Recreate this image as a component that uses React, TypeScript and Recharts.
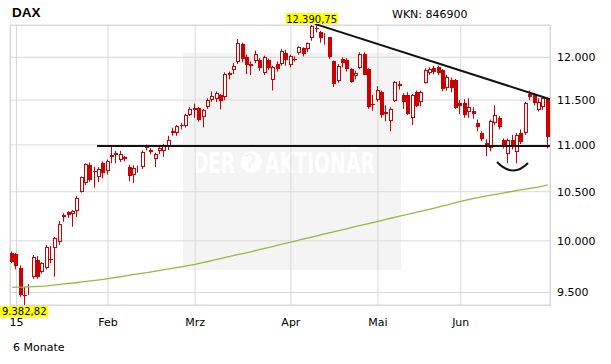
import { ComposedChart, Bar, Line, XAxis, YAxis, CartesianGrid, ReferenceLine, ReferenceDot } from "recharts"

// trading days per month (Xetra)
const dec14 = [30]
const jan15 = [2, 5, 6, 7, 8, 9, 12, 13, 14, 15, 16, 19, 20, 21, 22, 23, 26, 27, 28, 29, 30]
const feb15 = [2, 3, 4, 5, 6, 9, 10, 11, 12, 13, 16, 17, 18, 19, 20, 23, 24, 25, 26, 27]
const mar15 = [2, 3, 4, 5, 6, 9, 10, 11, 12, 13, 16, 17, 18, 19, 20, 23, 24, 25, 26, 27, 30, 31]
const apr15 = [1, 2, 7, 8, 9, 10, 13, 14, 15, 16, 17, 20, 21, 22, 23, 24, 27, 28, 29, 30]
const may15 = [4, 5, 6, 7, 8, 11, 12, 13, 14, 15, 18, 19, 20, 21, 22, 26, 27, 28, 29]
const jun15 = [1, 2, 3, 4, 5, 8, 9, 10, 11, 12, 15, 16, 17, 18, 19, 22, 23, 24, 25, 26, 29]

const opens = [
  9883, 9870, 9733, 9480, 9505, 9643, 9811, 9698, 9733, 9826,
  9930, 9990, 10255, 10290, 10270, 10300, 10500, 10590, 10782, 10720,
  10658, 10800, 10715, 10865, 10890, 10840, 10865, 10765, 10675, 10745,
  10760, 10980, 10945, 10845, 10935, 10935, 10980, 11152, 11130, 11218,
  11205, 11335, 11405, 11409, 11312, 11418, 11500, 11510, 11558, 11532,
  11810, 11845, 11940, 12158, 12005, 11915, 11950, 11965, 11812, 11965,
  11730, 11915, 11920, 12045, 11905, 11985, 12055, 12107, 12095, 12228,
  12360, 12308, 12220, 12240, 11950, 11724, 11978, 11965, 11858, 11774,
  11875, 12040, 11858, 11460, 11501, 11590, 11370, 11264, 11495, 11680,
  11558, 11558, 11294, 11597, 11480, 11700, 11810, 11870, 11880, 11850,
  11640, 11735, 11733, 11465, 11465, 11360, 11380, 11238, 11127, 11017,
  10966, 11238, 11294, 11053, 10906, 11053, 10925, 11127, 11127, 11565,
  11558, 11388, 11420, 11520,
]
const highs = [
  9895, 9880, 9760, 9555, 9580, 9860, 9850, 9790, 9960, 9950,
  10040, 10200, 10277, 10300, 10310, 10455, 10660, 10800, 10810, 10764,
  10760, 10820, 10840, 10985, 10935, 10935, 10880, 10785, 10780, 10775,
  10940, 11005, 10965, 10915, 10990, 11010, 11100, 11190, 11220, 11240,
  11345, 11420, 11460, 11420, 11400, 11520, 11600, 11600, 11570, 11820,
  11830, 11930, 12219, 12175, 12030, 11950, 12080, 11990, 12020, 11985,
  11900, 11950, 12100, 12090, 12030, 12010, 12130, 12120, 12175, 12390.75,
  12385, 12320, 12290, 12245, 11960, 11920, 12000, 11990, 11870, 11840,
  12060, 12060, 11870, 11560, 11660, 11610, 11440, 11420, 11720, 11720,
  11580, 11590, 11570, 11610, 11610, 11870, 11880, 11900, 11900, 11860,
  11790, 11760, 11745, 11500, 11510, 11520, 11420, 11280, 11150, 11060,
  11280, 11440, 11320, 11070, 11070, 11110, 11130, 11170, 11480, 11610,
  11580, 11520, 11550, 11530,
]
const lows = [
  9780, 9720, 9460, 9382.82, 9478, 9630, 9630, 9680, 9720, 9780,
  9650, 9960, 10192, 10230, 10141, 10240, 10490, 10570, 10600, 10542,
  10600, 10640, 10680, 10800, 10800, 10815, 10820, 10610, 10590, 10700,
  10740, 10940, 10900, 10760, 10900, 10871, 10945, 11100, 11100, 11170,
  11190, 11320, 11300, 11256, 11193, 11400, 11480, 11480, 11394, 11500,
  11740, 11800, 11920, 11940, 11800, 11790, 11930, 11840, 11790, 11850,
  11610, 11830, 11900, 11900, 11880, 11950, 12030, 12010, 12060, 12200,
  12300, 12175, 12150, 11980, 11650, 11700, 11880, 11830, 11700, 11740,
  11860, 11790, 11400, 11380, 11480, 11300, 11260, 11150, 11480, 11620,
  11400, 11330, 11219, 11420, 11430, 11690, 11790, 11800, 11790, 11600,
  11610, 11590, 11400, 11340, 11300, 11300, 11290, 11150, 11040, 10880,
  10930, 11220, 11170, 10960, 10800, 10950, 10800, 11010, 11110, 11500,
  11440, 11370, 11390, 10960,
]
const closes = [
  9795, 9756, 9476, 9470, 9518, 9838, 9648, 9779, 9936, 9811,
  10027, 10165, 10242, 10258, 10300, 10435, 10650, 10790, 10623, 10711,
  10738, 10694, 10828, 10891, 10911, 10905, 10846, 10663, 10752, 10753,
  10920, 10963, 10923, 10900, 10970, 10990, 11050, 11130, 11206, 11210,
  11328, 11402, 11390, 11280, 11388, 11501, 11547, 11578, 11495, 11800,
  11795, 11900, 12167, 11975, 11908, 11900, 12040, 11878, 12000, 11870,
  11880, 11858, 12078, 11966, 12010, 11967, 12120, 12036, 12166, 12375,
  12339, 12228, 12231, 11999, 11689, 11896, 11926, 11858, 11712, 11812,
  12040, 11796, 11418, 11454, 11616, 11327, 11338, 11400, 11705, 11665,
  11480, 11347, 11558, 11437, 11590, 11849, 11860, 11830, 11815, 11625,
  11771, 11640, 11414, 11436, 11328, 11419, 11340, 11197, 11065, 11001,
  11265, 11331, 11196, 10990, 11053, 10980, 11110, 11035, 11465, 11540,
  11465, 11483, 11520, 11090,
]
// 200-Tage-Linie
const ma200 = [
  9549, 9550, 9551, 9552, 9554, 9556, 9558, 9560, 9563, 9567,
  9572, 9577, 9582, 9586, 9590, 9595, 9600, 9605, 9610, 9615,
  9620, 9625, 9631, 9638, 9645, 9652, 9659, 9666, 9672, 9678,
  9684, 9690, 9697, 9704, 9711, 9718, 9725, 9732, 9739, 9746,
  9754, 9762, 9770, 9779, 9788, 9797, 9807, 9817, 9827, 9837,
  9847, 9857, 9866, 9875, 9884, 9894, 9905, 9915, 9926, 9936,
  9946, 9957, 9967, 9978, 9988, 9998, 10009, 10019, 10030, 10040,
  10050, 10061, 10071, 10082, 10092, 10102, 10113, 10123, 10134, 10144,
  10154, 10165, 10175, 10186, 10196, 10206, 10217, 10227, 10238, 10248,
  10258, 10269, 10279, 10290, 10300, 10310, 10321, 10331, 10342, 10353,
  10365, 10377, 10389, 10401, 10411, 10421, 10430, 10439, 10448, 10457,
  10465, 10473, 10481, 10489, 10497, 10505, 10513, 10521, 10528, 10535,
  10543, 10551, 10560, 10572,
]

const yTicks = [9500, 10000, 10500, 11000, 11500, 12000]
const monthTicks = ["2015-01-02", "2015-02-02", "2015-03-02", "2015-04-01", "2015-05-04", "2015-06-01"]
const monthLabels = ["15", "Feb", "Mrz", "Apr", "Mai", "Jun"]

const support = 10988
const resistStart = 12405
const resistEnd = 11510
const yMin = 9382.82
const yMax = 12390.75

const pad = (n: number) => (n < 10 ? "0" + n : "" + n)
const dates = [
  ...dec14.map((d) => `2014-12-${pad(d)}`),
  ...jan15.map((d) => `2015-01-${pad(d)}`),
  ...feb15.map((d) => `2015-02-${pad(d)}`),
  ...mar15.map((d) => `2015-03-${pad(d)}`),
  ...apr15.map((d) => `2015-04-${pad(d)}`),
  ...may15.map((d) => `2015-05-${pad(d)}`),
  ...jun15.map((d) => `2015-06-${pad(d)}`),
]

const data = dates.map((date, i) => ({
  date,
  o: opens[i],
  h: highs[i],
  l: lows[i],
  c: closes[i],
  range: [lows[i], highs[i]],
  ma: ma200[i],
}))

const hiIdx = highs.indexOf(yMax)
const loIdx = lows.indexOf(yMin)

const RED = "#cc0000"
const FONT = "DejaVu Sans, Verdana, sans-serif"

const fmtThousands = (v: number) => String(Math.round(v)).replace(/\B(?=(\d{3})+(?!\d))/g, ".")
const fmtPrice = (v: number) => {
  const [a, b] = v.toFixed(2).split(".")
  return fmtThousands(Number(a)) + "," + b
}

function Candle(props: any) {
  const { x, y, width, height, payload } = props
  if (!payload || x == null || y == null) return null
  const top = Math.min(y, y + height)
  const span = Math.abs(height)
  const lh = Math.log(payload.h)
  const ll = Math.log(payload.l)
  const py = (v: number) => top + ((lh - Math.log(v)) / (lh - ll)) * span
  const cx = Math.round(x + width / 2)
  const yo = py(payload.o)
  const yc = py(payload.c)
  const bTop = Math.round(Math.min(yo, yc))
  const bBot = Math.round(Math.max(yo, yc))
  const up = payload.c >= payload.o
  return (
    <g>
      <line x1={cx - 0.5} x2={cx - 0.5} y1={top} y2={top + span} stroke={RED} strokeWidth={1} />
      {up ? (
        <rect x={cx - 1.5} y={bTop + 0.5} width={3} height={Math.max(bBot - bTop - 1, 0)} fill="#fff" stroke={RED} strokeWidth={1} />
      ) : (
        <rect x={cx - 2} y={bTop} width={4} height={Math.max(bBot - bTop, 1)} fill={RED} />
      )}
    </g>
  )
}

const HighLabel = (props: any) => {
  const { cx, cy } = props
  return (
    <g>
      <rect x={cx - 27} y={cy - 12} width={52} height={11} fill="#ffff00" />
      <text x={cx - 1} y={cy - 2.5} textAnchor="middle" fontSize={10} fontFamily={FONT} fill="#000">
        {fmtPrice(yMax)}
      </text>
    </g>
  )
}

const LowLabel = (props: any) => {
  const { cx, cy } = props
  return (
    <g>
      <rect x={cx - 25} y={cy + 1} width={48} height={11.5} fill="#ffff00" />
      <text x={cx - 1} y={cy + 9.5} textAnchor="middle" fontSize={10} fontFamily={FONT} fill="#000">
        {fmtPrice(yMin)}
      </text>
    </g>
  )
}

const Smile = (props: any) => {
  const { cx, cy } = props
  return <path d={`M ${cx - 16} ${cy - 4} Q ${cx} ${cy + 12.5} ${cx + 15} ${cy - 3}`} fill="none" stroke="#111" strokeWidth={2} />
}

export default function App() {
  return (
    <div style={{ position: "absolute", left: 0, top: 0, width: 611, height: 364, background: "#fff", fontFamily: FONT }}>
      {/* background: frame, watermark, titles */}
      <svg width={611} height={364} style={{ position: "absolute", left: 0, top: 0 }}>
        <rect x={183} y={53} width={218} height={217} fill="#f4f4f4" />
        <text x={193} y={172.5} fontSize={28} fontWeight="bold" fontFamily={FONT} fill="#fff" textLength={42} lengthAdjust="spacingAndGlyphs">
          DER
        </text>
        <circle cx={251.5} cy={162} r={10.5} fill="#fff" />
        <path d="M 245 156 q 4 -3 8 0 q 2 4 -2 7 q -3 3 -1 6" fill="none" stroke="#ececec" strokeWidth={1.5} />
        <text x={265} y={172.5} fontSize={28} fontWeight="bold" fontFamily={FONT} fill="#fff" textLength={110} lengthAdjust="spacingAndGlyphs">
          AKTIONÄR
        </text>
        <rect x={10.5} y={25.5} width={540} height={280} fill="none" stroke="#d8d8d8" />
        <text x={12} y={17.3} fontSize={13.5} fontWeight="bold" fontFamily="Liberation Sans, Arial, sans-serif" fill="#000">
          DAX
        </text>
        <text x={392} y={18.3} fontSize={11} fontFamily={FONT} fill="#000">
          WKN: 846900
        </text>
        <text x={13} y={351} fontSize={11} fontFamily={FONT} fill="#000">
          6 Monate
        </text>
      </svg>
      <div style={{ position: "absolute", left: 0, top: 0 }}>
        <ComposedChart width={611} height={364} data={data} margin={{ top: 25, right: 0, bottom: 0, left: 10 }}>
          <CartesianGrid stroke="#d8d8d8" />
          <XAxis
            dataKey="date"
            ticks={monthTicks}
            interval={0}
            tickFormatter={(v: string) => monthLabels[monthTicks.indexOf(v)] ?? ""}
            axisLine={false}
            tickLine={false}
            tickSize={0}
            tickMargin={13}
            height={59}
            tick={{ fontSize: 11, fill: "#000", fontFamily: FONT }}
          />
          <YAxis
            orientation="right"
            scale="log"
            domain={[yMin, yMax]}
            allowDataOverflow
            ticks={yTicks}
            tickFormatter={fmtThousands}
            axisLine={false}
            tickLine={false}
            tickSize={0}
            tickMargin={7}
            width={61}
            tick={{ fontSize: 11, fill: "#000", fontFamily: FONT }}
          />
          <Line type="linear" dataKey="ma" stroke="#97b843" strokeWidth={1.3} dot={false} isAnimationActive={false} />
          <Bar dataKey="range" shape={Candle} isAnimationActive={false} />
          <ReferenceLine
            segment={[{ x: dates[19], y: support }, { x: dates[dates.length - 1], y: support }]}
            position="end"
            stroke="#111"
            strokeWidth={2}
            ifOverflow="visible"
          />
          <ReferenceLine
            segment={[{ x: dates[hiIdx], y: resistStart }, { x: dates[dates.length - 1], y: resistEnd }]}
            position="end"
            stroke="#111"
            strokeWidth={2}
            ifOverflow="visible"
          />
          <ReferenceDot x={dates[115]} y={10772} r={0} shape={Smile} ifOverflow="visible" />
          <ReferenceDot x={dates[hiIdx]} y={yMax} r={0} shape={HighLabel} ifOverflow="visible" />
          <ReferenceDot x={dates[loIdx]} y={yMin} r={0} shape={LowLabel} ifOverflow="visible" />
        </ComposedChart>
      </div>
    </div>
  )
}
